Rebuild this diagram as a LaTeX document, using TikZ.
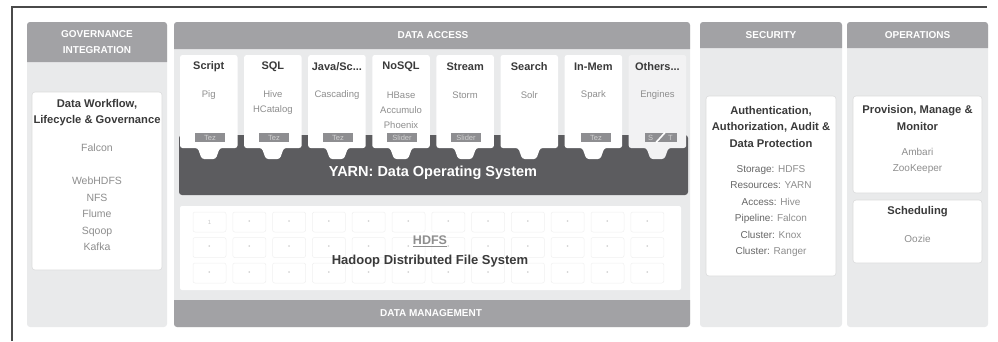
\documentclass[tikz,border=0pt]{standalone}
\usepackage{fontspec}
\setmainfont{Liberation Sans}
\definecolor{framec}{HTML}{4A4A4A}
\definecolor{bgc}{HTML}{E9EAEB}
\definecolor{hdrc}{HTML}{A2A2A5}
\definecolor{yarnc}{HTML}{5C5C5F}
\definecolor{tagc}{HTML}{8E8E91}
\definecolor{tagtxt}{HTML}{D2D2D2}
\definecolor{boxline}{HTML}{DCDCDC}
\definecolor{cellline}{HTML}{F0F0F0}
\definecolor{celldot}{HTML}{C8C8C8}
\definecolor{txtdark}{HTML}{3A3A3A}
\definecolor{txtmid}{HTML}{666666}
\definecolor{txtlight}{HTML}{8E8E8E}
\definecolor{otherc}{HTML}{F2F2F3}
\begin{document}
\begin{tikzpicture}[x=1pt,y=-1pt,
  hdrtxt/.style={text=white,font=\fontsize{10}{16}\selectfont\bfseries,align=center,inner sep=0},
  ttl/.style={text=txtdark,font=\fontsize{11.2}{16.5}\selectfont\bfseries,align=center,inner sep=0},
  sub/.style={text=txtlight,font=\fontsize{10}{16.4}\selectfont,align=center,inner sep=0},
  csub/.style={text=txtlight,font=\fontsize{9.5}{15}\selectfont,align=center,inner sep=0},
  ctitle/.style={text=txtdark,font=\fontsize{11}{12}\selectfont\bfseries,inner sep=0},
  tagbox/.style={fill=tagc,text=tagtxt,font=\fontsize{7.5}{8}\selectfont,minimum width=30,minimum height=9.5,inner sep=0},
  wbox/.style={fill=white,draw=boxline,line width=0.6,rounded corners=3},
  cell/.style={draw=cellline,line width=0.5,rounded corners=2,minimum width=33,minimum height=20,inner sep=0,text=celldot,font=\fontsize{6}{6}\selectfont},
]
\useasboundingbox (0,0) rectangle (998,341);
% frame
\draw[framec,line width=2] (12,341) -- (12,6.5) -- (987,6.5);

% ---------- column backgrounds ----------
\fill[bgc,rounded corners=3] (27,22) rectangle (167,327);
\fill[bgc,rounded corners=3] (174,22) rectangle (690,327);
\fill[bgc,rounded corners=3] (700,22) rectangle (842,327);
\fill[bgc,rounded corners=3] (847,22) rectangle (988,327);
% headers
\fill[hdrc,rounded corners=3] (27,62) -- (27,22) -- (167,22) -- (167,62);
\fill[hdrc,rounded corners=3] (174,49) -- (174,22) -- (690,22) -- (690,49);
\fill[hdrc,rounded corners=3] (700,48) -- (700,22) -- (842,22) -- (842,48);
\fill[hdrc,rounded corners=3] (847,48) -- (847,22) -- (988,22) -- (988,48);
\fill[hdrc,rounded corners=3] (174,300) -- (174,327) -- (690,327) -- (690,300);

\node[hdrtxt] (govhdr) at (97,42) {GOVERNANCE\\INTEGRATION};
\node[hdrtxt] (dahdr) at (433,35.5) {DATA ACCESS};
\node[hdrtxt] (sechdr) at (771,35) {SECURITY};
\node[hdrtxt] (opshdr) at (917.5,35) {OPERATIONS};
\node[hdrtxt] (dmhdr) at (431,313.5) {DATA MANAGEMENT};

% ---------- governance ----------
\draw[wbox] (32,92) rectangle (162,270);
\node[ttl] (govttl) at (97,112.5) {Data Workflow,\\Lifecycle \& Governance};
\node[sub,font=\fontsize{10.5}{16.5}\selectfont] (falcon) at (97,148) {Falcon};
\node[sub,font=\fontsize{10.5}{16.5}\selectfont] (govlist) at (97,214) {WebHDFS\\NFS\\Flume\\Sqoop\\Kafka};

% ---------- data access: YARN + cards ----------
\fill[yarnc,rounded corners=3] (179,135) rectangle (688,195);
\foreach \i/\col in {0/white,1/white,2/white,3/white,4/white,5/white,6/white,7/otherc} {
  \pgfmathsetmacro\xa{180+64.1*\i}
  \pgfmathsetmacro\xb{\xa+57.5}
  \pgfmathsetmacro\cx{\xa+28.75}
  \fill[\col,rounded corners=2.5] (\xa,148) -- (\xa,55) -- (\xb,55) -- (\xb,148)
     -- (\cx+11,148) -- (\cx+7,159) -- (\cx-7,159) -- (\cx-11,148) -- cycle;
}
% card titles
\node[ctitle] (t0) at (208.75,67) {Script};
\node[ctitle] (t1) at (272.85,67) {SQL};
\node[ctitle] (t2) at (336.95,67) {Java/Sc...};
\node[ctitle] (t3) at (401.05,67) {NoSQL};
\node[ctitle] (t4) at (465.15,67) {Stream};
\node[ctitle] (t5) at (529.25,67) {Search};
\node[ctitle] (t6) at (593.35,67) {In-Mem};
\node[ctitle] (t7) at (657.45,67) {Others...};
% card contents
\node[csub] (s0) at (208.75,95) {Pig};
\node[csub] (s1) at (272.85,102.5) {Hive\\HCatalog};
\node[csub] (s2) at (336.95,95) {Cascading};
\node[csub] (s3) at (401.05,110) {HBase\\Accumulo\\Phoenix};
\node[csub] (s4) at (465.15,95) {Storm};
\node[csub] (s5) at (529.25,95) {Solr};
\node[csub] (s6) at (593.35,95) {Spark};
\node[csub] (s7) at (657.45,95) {Engines};
% tags
\node[tagbox] (g0) at (210,137.5) {Tez};
\node[tagbox] (g1) at (274,137.5) {Tez};
\node[tagbox] (g2) at (338,137.5) {Tez};
\node[tagbox] (g3) at (402,137.5) {Slider};
\node[tagbox] (g4) at (466,137.5) {Slider};
\node[tagbox] (g6) at (596,137.5) {Tez};
\node[tagbox,minimum width=32] (g7) at (660.5,137.5) {S\hspace{15pt}T};
\draw[white,line width=1.6] ([xshift=-4.5]g7.south) -- ([xshift=4.5]g7.north);

\node[text=white,font=\fontsize{14.5}{15}\selectfont\bfseries,inner sep=0] (yarn) at (433,172.5) {YARN: Data Operating System};

% ---------- HDFS ----------
\fill[white,rounded corners=2] (180,206) rectangle (681,290);
\foreach \c in {0,...,11} {
  \foreach \r in {0,1,2} {
    \pgfmathsetmacro\px{209.5+39.8*\c}
    \pgfmathsetmacro\py{222+25.5*\r}
    \node[cell] (c\c-\r) at (\px,\py) {\ifnum\c=0 \ifnum\r=0 1\else •\fi\else •\fi};
  }
}
\node[text=txtlight,font=\fontsize{12.5}{13}\selectfont\bfseries,inner sep=0] (hdfs) at (430,241.5) {\underline{HDFS}};
\node[text=txtdark,font=\fontsize{13}{14}\selectfont\bfseries,inner sep=0] (hdfsname) at (430,261) {Hadoop Distributed File System};

% ---------- security ----------
\draw[wbox] (706,96) rectangle (836,276);
\node[ttl] (secttl) at (771,126.5) {Authentication,\\Authorization, Audit \&\\Data Protection};
\node[sub] (seclist) at (771,211) {%
  \textcolor{txtmid}{Storage:} HDFS\\
  \textcolor{txtmid}{Resources:} YARN\\
  \textcolor{txtmid}{Access:} Hive\\
  \textcolor{txtmid}{Pipeline:} Falcon\\
  \textcolor{txtmid}{Cluster:} Knox\\
  \textcolor{txtmid}{Cluster:} Ranger};

% ---------- operations ----------
\draw[wbox] (853,96) rectangle (982,193);
\node[ttl] (opsttl) at (917.5,118) {Provision, Manage \&\\Monitor};
\node[sub] (opslist) at (917.5,161) {Ambari\\ZooKeeper};
\draw[wbox] (853,200) rectangle (982,263);
\node[ttl] (schedttl) at (917.5,212) {Scheduling};
\node[sub] (oozie) at (917.5,239) {Oozie};
\end{tikzpicture}
\end{document}
